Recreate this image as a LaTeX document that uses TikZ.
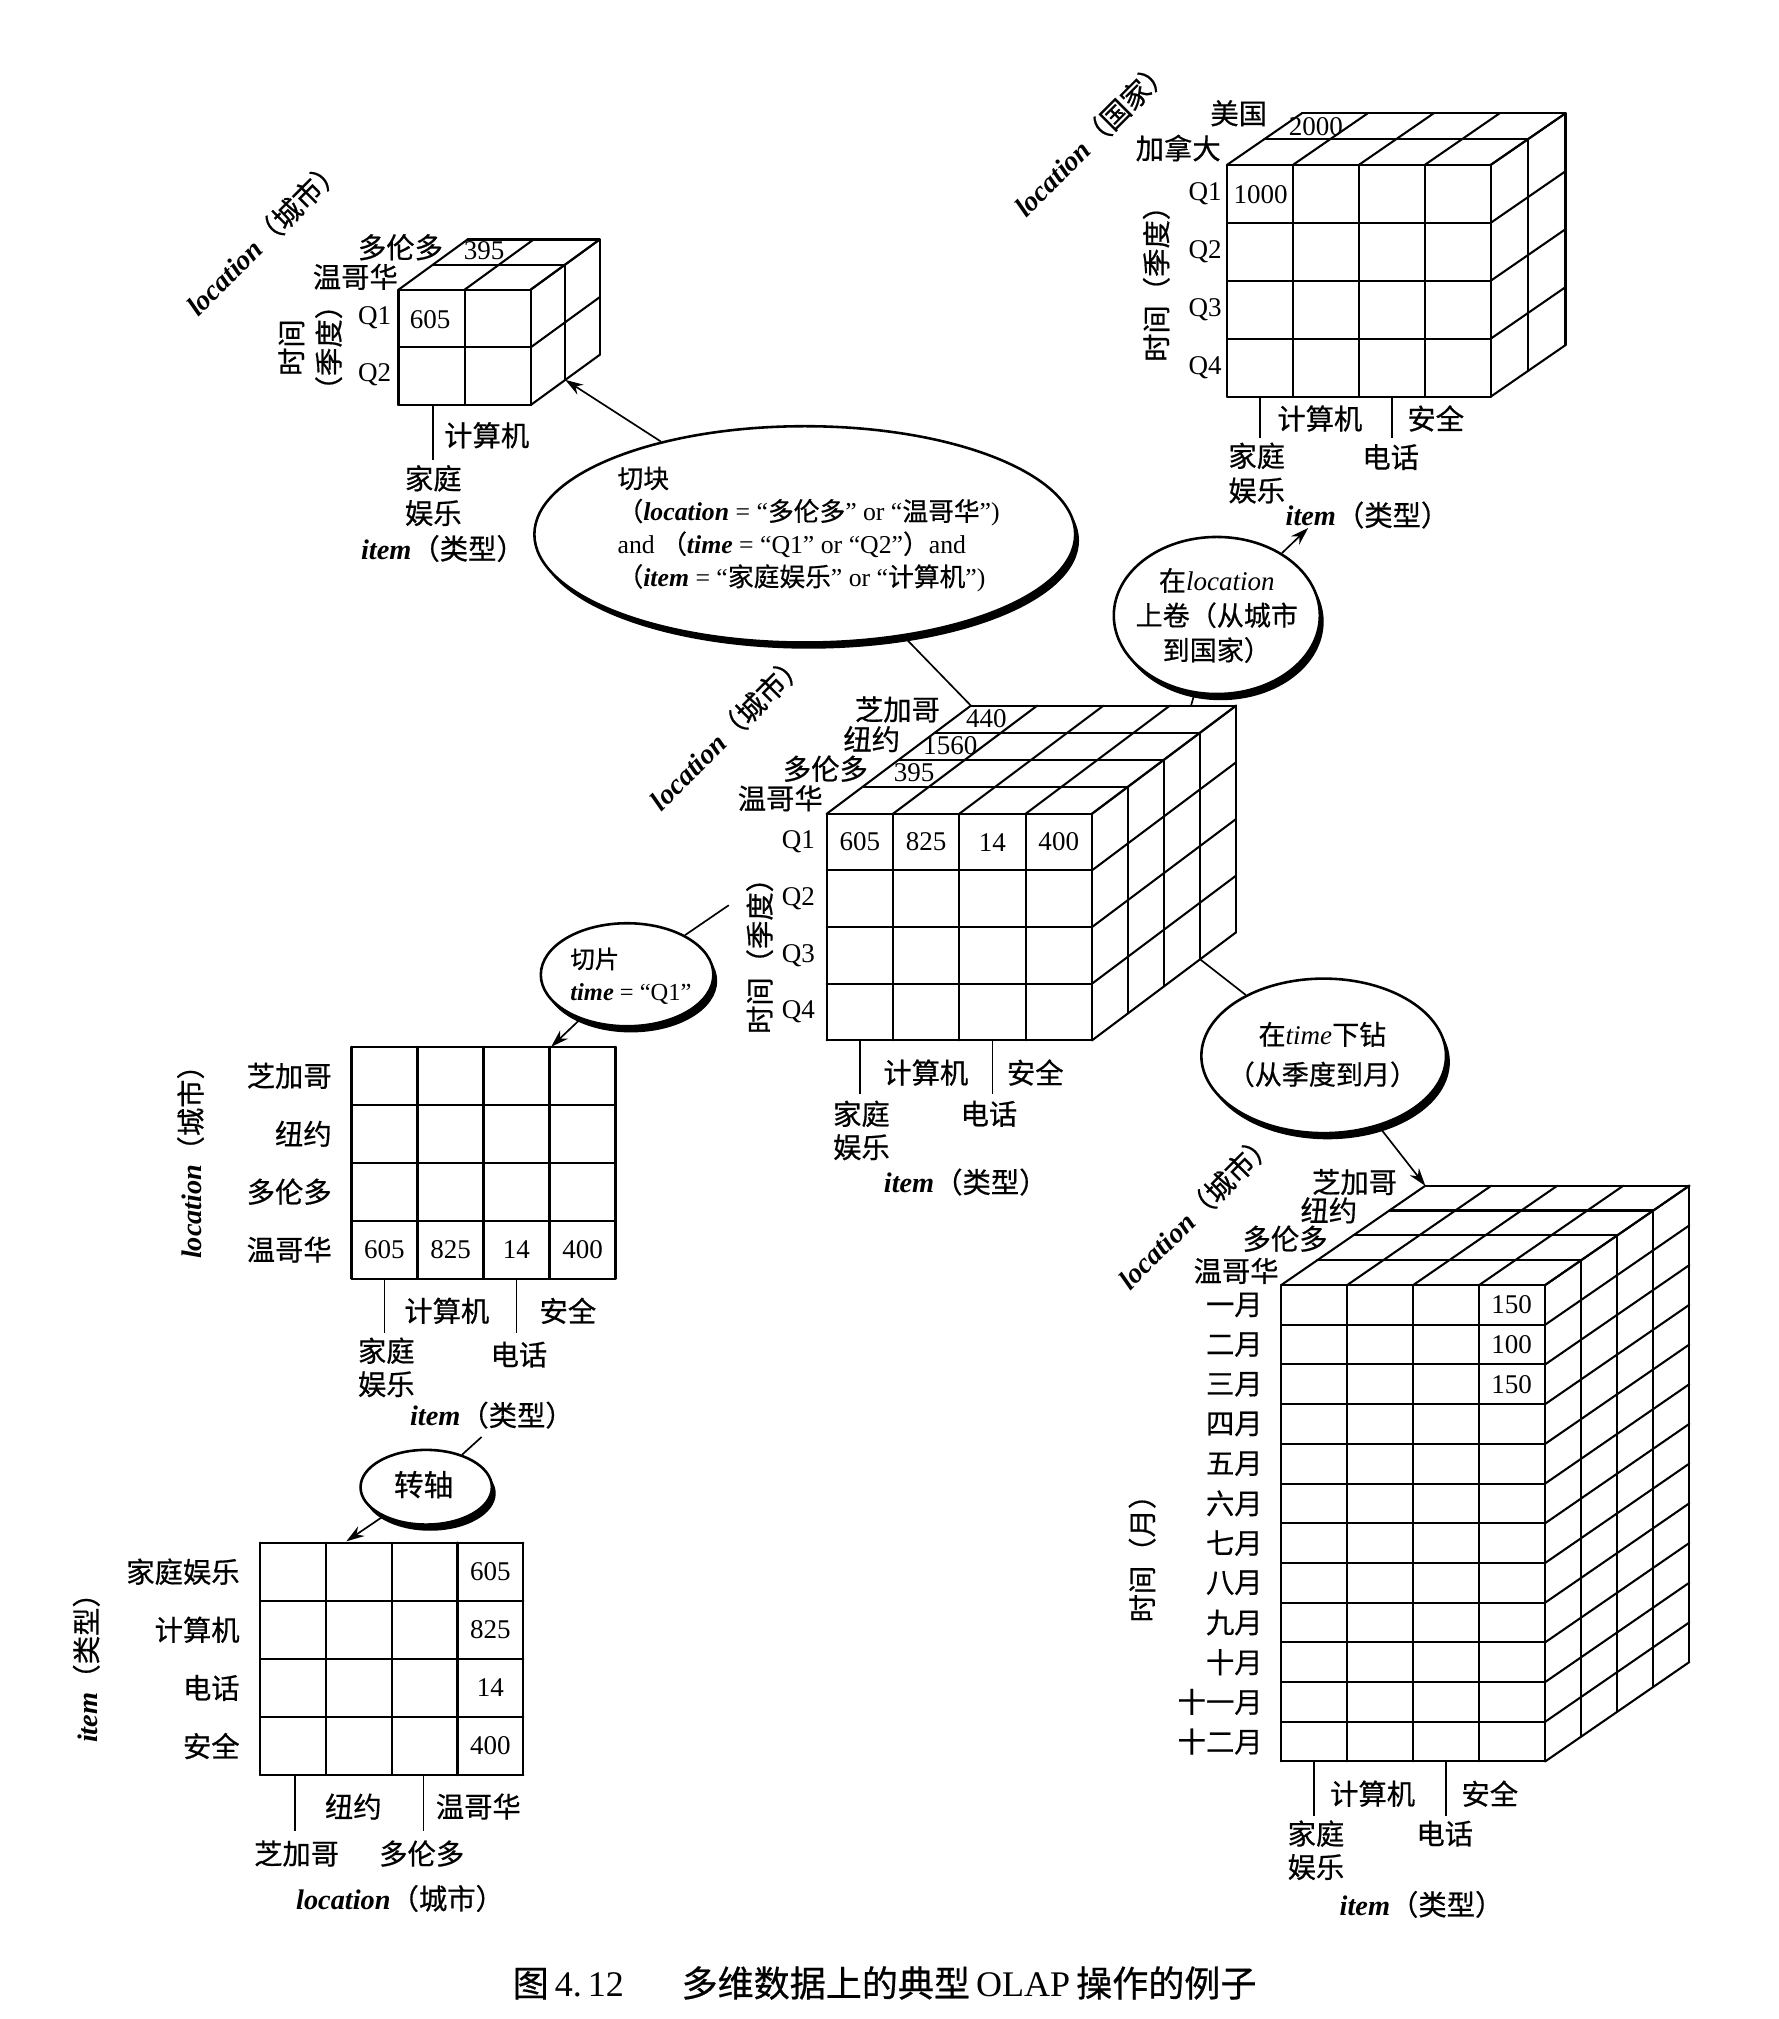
\documentclass[tikz,border=0pt]{standalone}
\usepackage{fontspec}
\setmainfont{Liberation Serif}
\newfontfamily\cjk[FakeBold=0.6]{Noto Sans CJK SC}
\usetikzlibrary{shapes.geometric,shadows,arrows.meta}
\newcommand\zh[1]{{\cjk #1}}
\newcommand\ib[1]{{\bfseries\itshape #1}}
% cube: x0, y0, ncols, nrows, layers, cw, ch, dx, dy
\newcommand\olapcube[9]{%
  \begin{scope}[shift={(#1,#2)}]
    \pgfmathsetmacro\cubW{#3*#6}%
    \pgfmathsetmacro\cubH{#4*#7}%
    \pgfmathsetmacro\cubDX{#5*#8}%
    \pgfmathsetmacro\cubDY{#5*(#9)}%
    \foreach \i in {0,...,#3}{\draw[gridline] ({\i*#6},0) -- ({\i*#6},\cubH);}
    \foreach \j in {0,...,#4}{\draw[gridline] (0,{\j*#7}) -- (\cubW,{\j*#7});}
    \foreach \k in {1,...,#5}{\draw[gridline] ({\k*#8},{\k*(#9)}) -- ++(\cubW,0);}
    \foreach \i in {0,...,#3}{\draw[gridline] ({\i*#6},0) -- ++(\cubDX,\cubDY);}
    \foreach \k in {1,...,#5}{\draw[gridline] ({\cubW+\k*#8},{\k*(#9)}) -- ++(0,\cubH);}
    \foreach \j in {0,...,#4}{\draw[gridline] (\cubW,{\j*#7}) -- ++(\cubDX,\cubDY);}
  \end{scope}}
% flat grid: x0, y0, ncols, nrows, cw, ch
\newcommand\olapgrid[6]{%
  \begin{scope}[shift={(#1,#2)}]
    \pgfmathsetmacro\cubW{#3*#5}%
    \pgfmathsetmacro\cubH{#4*#6}%
    \foreach \i in {0,...,#3}{\draw[gridline] ({\i*#5},0) -- ({\i*#5},\cubH);}
    \foreach \j in {0,...,#4}{\draw[gridline] (0,{\j*#6}) -- (\cubW,{\j*#6});}
  \end{scope}}
\begin{document}
\begin{tikzpicture}[x=0.5pt,y=-0.5pt,
  gridline/.style={line width=0.8pt,line cap=round},
  lbl/.style={inner sep=0pt,font=\fontsize{11}{13}\selectfont},
  num/.style={inner sep=0pt,font=\fontsize{10.5}{12}\selectfont},
  conn/.style={line width=0.65pt},
  arr/.style={line width=0.65pt,-{Stealth[length=7pt,width=4.5pt]}},
  op/.style={ellipse,draw,line width=1pt,fill=white,inner sep=0pt,
     drop shadow={fill=black,opacity=1,shadow xshift=1.5pt,shadow yshift=-2.4pt}},
  optext/.style={inner sep=0pt}]
\useasboundingbox (0,0) rectangle (1381,1568);

% ---------------- top-left cube (dice result)
\olapcube{309.5}{225}{2}{2}{2}{51.3}{44.8}{26.8}{-19.5}
\node[lbl,rotate=45] (tlloc) at (205,184) {\ib{location}\zh{（城市）}};
\node[lbl] (tl1) at (311,192) {\zh{多伦多}};
\node[lbl] (tl2) at (276,215) {\zh{温哥华}};
\node[num] (tl3) at (376,195) {395};
\node[num] (tl4) at (334,248) {605};
\node[num] (tlq1) at (291,247) {Q1};
\node[num] (tlq2) at (291,291) {Q2};
\node[lbl,rotate=90,align=center,font=\fontsize{11}{14.5}\selectfont] (tltime) at (241,270) {\zh{时间}\\\zh{（季度）}};
\draw[conn] (336.5,315) -- (336.5,357);
\node[lbl] (tlc) at (378,338) {\zh{计算机}};
\node[lbl] (tlh1) at (336.5,371.5) {\zh{家庭}};
\node[lbl] (tlh2) at (336.5,398.5) {\zh{娱乐}};
\node[lbl] (tlitem) at (344,426) {\ib{item}\zh{（类型）}};
\coordinate (tlTip) at (439,295);

% ---------------- top-right cube (roll-up result)
\olapcube{953}{128}{4}{4}{2}{51.2}{45}{29}{-20}
\node[lbl,rotate=45] (trloc) at (848,107) {\ib{location}\zh{（国家）}};
\node[lbl] (tr1) at (962,88) {\zh{美国}};
\node[lbl] (tr2) at (915,115) {\zh{加拿大}};
\node[num] (tr3) at (1022,98) {2000};
\node[num] (tr4) at (979,151) {1000};
\node[num] (trq1) at (936,150.5) {Q1};
\node[num] (trq2) at (936,195.5) {Q2};
\node[num] (trq3) at (936,240.5) {Q3};
\node[num] (trq4) at (936,285.5) {Q4};
\node[lbl,rotate=90] (trtime) at (898,215) {\zh{时间（季度）}};
\draw[conn] (978.6,308) -- (978.6,340);
\draw[conn] (1081,308) -- (1081,340);
\node[lbl] (trc) at (1025,325) {\zh{计算机}};
\node[lbl] (trs) at (1115,325) {\zh{安全}};
\node[lbl] (trh1) at (976,354) {\zh{家庭}};
\node[lbl] (trh2) at (976,381) {\zh{娱乐}};
\node[lbl] (trp) at (1080,355) {\zh{电话}};
\node[lbl] (tritem) at (1062,400) {\ib{item}\zh{（类型）}};
\coordinate (trTip) at (1016,410);

% ---------------- central cube
\olapcube{642}{632}{4}{4}{4}{51.5}{44}{28}{-21}
\node[lbl,rotate=45] (cloc) at (565,568) {\ib{location}\zh{（城市）}};
\node[lbl] (cl1) at (606,620) {\zh{温哥华}};
\node[lbl] (cl2) at (641,597) {\zh{多伦多}};
\node[lbl] (cl3) at (677,574) {\zh{纽约}};
\node[lbl] (cl4) at (697,551) {\zh{芝加哥}};
\node[num] (cv1) at (710,600) {395};
\node[num] (cv2) at (738,579) {1560};
\node[num] (cv3) at (766,558) {440};
\node[num] (cv4) at (667.75,654) {605};
\node[num] (cv5) at (719.25,654) {825};
\node[num] (cv6) at (770.75,654) {14};
\node[num] (cv7) at (822.25,654) {400};
\node[num] (cq1) at (620,654) {Q1};
\node[num] (cq2) at (620,698) {Q2};
\node[num] (cq3) at (620,742) {Q3};
\node[num] (cq4) at (620,786) {Q4};
\node[lbl,rotate=90] (ctime) at (590,737) {\zh{时间（季度）}};
\draw[conn] (667.75,808) -- (667.75,850);
\draw[conn] (770.75,808) -- (770.75,850);
\node[lbl] (cc) at (719,833) {\zh{计算机}};
\node[lbl] (cs) at (804,833) {\zh{安全}};
\node[lbl] (ch1) at (669,865) {\zh{家庭}};
\node[lbl] (ch2) at (669,891) {\zh{娱乐}};
\node[lbl] (cp) at (768,865) {\zh{电话}};
\node[lbl] (citem) at (750,918) {\ib{item}\zh{（类型）}};
\coordinate (cA) at (754,548);
\coordinate (cB) at (925,548);
\coordinate (cC) at (932,745);
\coordinate (cD) at (566,703);

% ---------------- slice table
\olapgrid{273}{813}{4}{4}{51.25}{45}
\node[lbl,rotate=90] (sloc) at (148,897) {\ib{location}\zh{（城市）}};
\node[lbl,anchor=east] (sr1) at (258,835.5) {\zh{芝加哥}};
\node[lbl,anchor=east] (sr2) at (258,880.5) {\zh{纽约}};
\node[lbl,anchor=east] (sr3) at (258,925.5) {\zh{多伦多}};
\node[lbl,anchor=east] (sr4) at (258,970.5) {\zh{温哥华}};
\node[num] (sv1) at (298.6,970.5) {605};
\node[num] (sv2) at (349.9,970.5) {825};
\node[num] (sv3) at (401.1,970.5) {14};
\node[num] (sv4) at (452.4,970.5) {400};
\draw[conn] (298.6,993) -- (298.6,1035);
\draw[conn] (401.1,993) -- (401.1,1035);
\node[lbl] (sc) at (347,1018) {\zh{计算机}};
\node[lbl] (ss) at (441,1018) {\zh{安全}};
\node[lbl] (sh1) at (300,1049) {\zh{家庭}};
\node[lbl] (sh2) at (300,1075) {\zh{娱乐}};
\node[lbl] (sp) at (403,1052) {\zh{电话}};
\node[lbl] (sitem) at (382,1099) {\ib{item}\zh{（类型）}};
\coordinate (sTip) at (428,813);
\coordinate (pS) at (374,1116);

% ---------------- pivot table
\olapgrid{202}{1198}{4}{4}{51.1}{45.15}
\node[lbl,rotate=90] (pitem) at (67,1290) {\ib{item}\zh{（类型）}};
\node[lbl,anchor=east] (pr1) at (186.5,1220.6) {\zh{家庭娱乐}};
\node[lbl,anchor=east] (pr2) at (186.5,1265.7) {\zh{计算机}};
\node[lbl,anchor=east] (pr3) at (186.5,1310.9) {\zh{电话}};
\node[lbl,anchor=east] (pr4) at (186.5,1356) {\zh{安全}};
\node[num] (pv1) at (380.8,1220.6) {605};
\node[num] (pv2) at (380.8,1265.7) {825};
\node[num] (pv3) at (380.8,1310.9) {14};
\node[num] (pv4) at (380.8,1356) {400};
\draw[conn] (229,1378.6) -- (229,1422);
\draw[conn] (329,1378.6) -- (329,1422);
\node[lbl] (pc1) at (274.4,1403) {\zh{纽约}};
\node[lbl] (pc2) at (371.5,1403) {\zh{温哥华}};
\node[lbl] (pc3) at (230.4,1439.5) {\zh{芝加哥}};
\node[lbl] (pc4) at (327.5,1439.5) {\zh{多伦多}};
\node[lbl] (ploc) at (310.7,1474.4) {\ib{location}\zh{（城市）}};
\coordinate (pTip) at (269,1197);

% ---------------- drill-down cube
\olapcube{995}{998}{4}{12}{4}{51.25}{30.83}{28}{-19.3}
\node[lbl,rotate=45] (dloc) at (929,940) {\ib{location}\zh{（城市）}};
\node[lbl] (dl1) at (960,987) {\zh{温哥华}};
\node[lbl] (dl2) at (998,962) {\zh{多伦多}};
\node[lbl] (dl3) at (1032,940) {\zh{纽约}};
\node[lbl] (dl4) at (1052,918) {\zh{芝加哥}};
\foreach \m [count=\j from 0] in {一月,二月,三月,四月,五月,六月,七月,八月,九月,十月,十一月,十二月}{
  \node[lbl,anchor=east] (dm\j) at (981,{998+\j*30.83+15.4}) {\zh{\m}};}
\node[num] (dv1) at (1174,1013.4) {150};
\node[num] (dv2) at (1174,1044.2) {100};
\node[num] (dv3) at (1174,1075.1) {150};
\node[lbl,rotate=90] (dtime) at (887,1205) {\zh{时间（月）}};
\draw[conn] (1020.6,1368) -- (1020.6,1410);
\draw[conn] (1123.1,1368) -- (1123.1,1410);
\node[lbl] (dc) at (1066,1393) {\zh{计算机}};
\node[lbl] (ds) at (1157,1393) {\zh{安全}};
\node[lbl] (dh1) at (1022,1424) {\zh{家庭}};
\node[lbl] (dh2) at (1022,1450) {\zh{娱乐}};
\node[lbl] (dp) at (1122,1424) {\zh{电话}};
\node[lbl] (ditem) at (1104,1479) {\ib{item}\zh{（类型）}};
\coordinate (dTip) at (1107,921);

% ---------------- operation ellipses
\node[op,minimum width=210pt,minimum height=84pt] (dice) at (625,415) {};
\node[optext,align=left,font=\fontsize{10}{12.7}\selectfont] (dicet) at (628,411)
  {\zh{切块}\\
   \zh{（}\ib{location} = “\zh{多伦多}” or “\zh{温哥华}”)\\
   and \zh{（}\ib{time} = “Q1” or “Q2”\zh{）}and\\
   \zh{（}\ib{item} = “\zh{家庭娱乐}” or “\zh{计算机}”)};
\node[op,minimum width=80pt,minimum height=61pt] (rollup) at (945,478) {};
\node[optext,align=center,font=\fontsize{10.5}{13.5}\selectfont] (rollupt) at (945,478)
  {\zh{在}\textit{location}\\\zh{上卷（从城市}\\\zh{到国家）}};
\node[op,minimum width=67pt,minimum height=40pt] (slice) at (487,757) {};
\node[optext,align=left,font=\fontsize{9.5}{12.5}\selectfont] (slicet) at (490,758)
  {\zh{切片}\\\ib{time} = “Q1”};
\node[op,minimum width=51pt,minimum height=29pt] (pivot) at (331,1155) {};
\node[optext,font=\fontsize{11.5}{13}\selectfont] (pivott) at (329,1153) {\zh{转轴}};
\node[op,minimum width=95pt,minimum height=60pt] (drill) at (1028,820) {};
\node[optext,align=center,font=\fontsize{10.5}{15.5}\selectfont] (drillt) at (1027,819)
  {\zh{在}\textit{time}\zh{下钻}\\\zh{（从季度到月）}};

% ---------------- connectors
\draw[arr] (dice) -- (tlTip);
\draw[conn] (cA) -- (dice);
\draw[conn] (cB) -- (rollup);
\draw[arr] (rollup) -- (trTip);
\draw[conn] (cC) -- (drill);
\draw[arr] (drill) -- (dTip);
\draw[conn] (cD) -- (slice);
\draw[arr] (slice) -- (sTip);
\draw[conn] (pS) -- (pivot);
\draw[arr] (pivot) -- (pTip);

% ---------------- caption
\node[inner sep=0pt,font=\fontsize{14}{16}\selectfont] (cap) at (687,1540)
  {\zh{图}\,4.\,12\hspace{1.6em}\zh{多维数据上的典型}\,OLAP\,\zh{操作的例子}};
\end{tikzpicture}
\end{document}
